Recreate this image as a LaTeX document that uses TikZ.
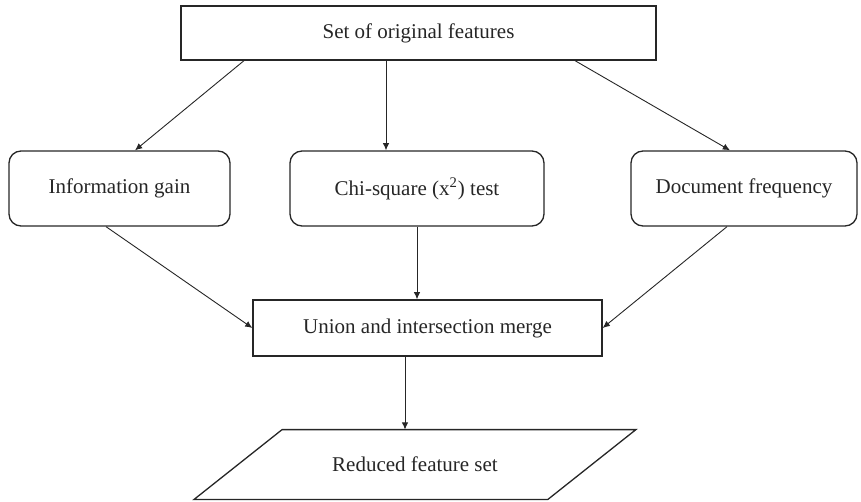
\documentclass[tikz,border=0pt]{standalone}
\usepackage{fontspec}
\setmainfont{Liberation Serif}
\usetikzlibrary{arrows.meta}
\begin{document}
\begin{tikzpicture}[x=0.5pt,y=-0.5pt,
  every node/.style={font=\fontsize{10.5}{12.5}\selectfont, text=black!85, inner sep=0pt},
  sqbox/.style={draw=black!85, line width=0.65pt, rectangle},
  rbox/.style={draw=black!85, line width=0.65pt, rectangle, rounded corners=6pt},
  arr/.style={draw=black!85, line width=0.45pt, -{Latex[length=3.6pt,width=3.2pt]}}]
\useasboundingbox (0,0) rectangle (861,502);
\node[sqbox, minimum width=237.5pt, minimum height=27pt] (top) at (418.5,33) {Set of original features};
\node[rbox, minimum width=110.5pt, minimum height=37.5pt] (info) at (119.5,188.5) {Information gain};
\node[rbox, minimum width=127pt, minimum height=37.5pt] (chi) at (417,188.5) {Chi-square (x\textsuperscript{2}) test};
\node[rbox, minimum width=113pt, minimum height=37.5pt] (doc) at (744,188.5) {Document frequency};
\node[sqbox, minimum width=174.5pt, minimum height=28pt] (uni) at (427.5,328) {Union and intersection merge};
\node[minimum width=176.5pt, minimum height=34.5pt] (red) at (415,464.5) {Reduced feature set};
\draw[draw=black!85, line width=0.65pt]
  ([xshift=22pt]red.north west) -- ([xshift=22pt]red.north east)
  -- ([xshift=-22pt]red.south east) -- ([xshift=-22pt]red.south west) -- cycle;
\draw[arr] ([xshift=-87.25pt]top.south) -- ([xshift=7.75pt]info.north);
\draw[arr] ([xshift=-16.25pt]top.south) -- ([xshift=-16.25pt]top.south |- chi.north);
\draw[arr] ([xshift=78.25pt]top.south) -- ([xshift=-7pt]doc.north);
\draw[arr] ([xshift=-6.75pt]info.south) -- (uni.west);
\draw[arr] (chi.south) -- (chi.south |- uni.north);
\draw[arr] ([xshift=-8.5pt]doc.south) -- (uni.east);
\draw[arr] ([xshift=-11.25pt]uni.south) -- ([xshift=-11.25pt]uni.south |- red.north);
\end{tikzpicture}
\end{document}
